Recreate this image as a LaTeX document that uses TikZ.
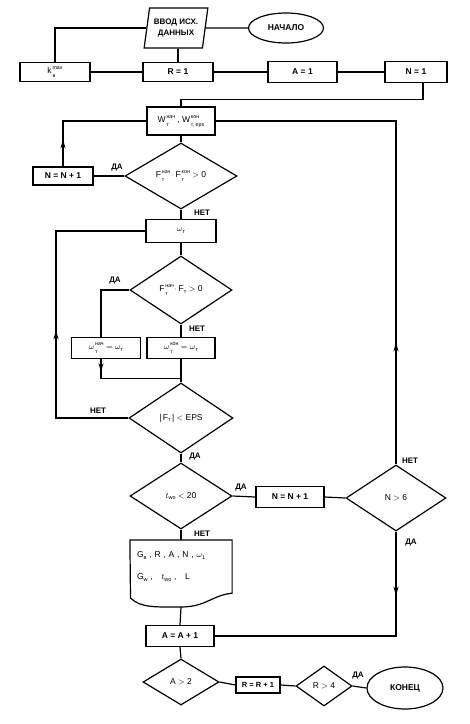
\documentclass[tikz,border=0pt]{standalone}
\usepackage{amsmath}
\usepackage{fontspec}
\setmainfont{Liberation Sans}
\usetikzlibrary{shapes.geometric,arrows.meta,decorations.markings}
\newcommand\SupSub[3]{#1\kern0.8pt\raisebox{0.6pt}{\fontsize{5.3}{7.4}\selectfont\begin{tabular}[c]{@{}l@{}}#2\\#3\end{tabular}}}
\newcommand\Sb[1]{\raisebox{-1.6pt}{\fontsize{5.5}{6.2}\selectfont #1}}
\begin{document}
\begin{tikzpicture}[x=1pt,y=-1pt,line width=1.2pt,
  font=\fontsize{8.5}{10}\selectfont,
  box/.style={draw,rectangle,inner sep=1pt,minimum height=19pt},
  bbox/.style={box,font=\fontsize{8.5}{10}\selectfont\bfseries},
  dia/.style={draw,diamond,inner sep=0pt},
  term/.style={draw,ellipse,inner sep=0pt,font=\fontsize{8.5}{10}\selectfont\bfseries},
  lbl/.style={font=\fontsize{8}{9}\selectfont\bfseries},
  midarr/.style={postaction={decorate},decoration={markings,
     mark=at position #1 with {\arrow{Stealth[length=9pt,width=5pt]}}}}]
\fill[white] (0,0) rectangle (470,724);
\useasboundingbox (0,0) rectangle (470,724);

% top row
\node[term,minimum width=75pt,minimum height=30pt] (start) at (286,28) {НАЧАЛО};
\node[draw,trapezium,trapezium left angle=76,trapezium right angle=104,
      trapezium stretches=true,minimum width=64pt,minimum height=40pt,inner sep=0pt,
      align=center,font=\fontsize{8}{11}\selectfont\bfseries] (inp) at (176,28) {ВВОД ИСХ.\\ДАННЫХ};
\node[box,minimum width=70pt] (kb) at (55,72) {\SupSub{k}{max}{в}};
\node[bbox,minimum width=70pt] (r1) at (178,72) {R = 1};
\node[bbox,minimum width=69pt,minimum height=21pt] (a1) at (302.5,72) {A = 1};
\node[bbox,minimum width=62pt,minimum height=21pt] (n1) at (416,72) {N = 1};

% main column
\node[box,minimum width=68pt,minimum height=28pt] (W) at (181,121)
  {\SupSub{W}{нач}{т}\;,\;\SupSub{W}{кон}{т, eps}};
\node[dia,minimum width=112pt,minimum height=66pt] (D1) at (181,176)
  {\SupSub{F}{нач}{т}\,$\cdot$\,\SupSub{F}{кон}{т} $>$ 0};
\node[bbox,minimum width=60pt,minimum height=18pt] (nn1) at (63,176) {N = N + 1};
\node[box,minimum width=70pt,minimum height=23pt] (om) at (181,231) {$\omega$\Sb{т}};
\node[dia,minimum width=102pt,minimum height=68pt] (D2) at (181,290)
  {\SupSub{F}{нач}{т}$\cdot$ F\Sb{т} $>$ 0};
\node[box,minimum width=69pt,minimum height=21pt] (noch) at (106,348)
  {\SupSub{$\omega$}{нач}{т} $=\omega$\Sb{т}};
\node[box,minimum width=68pt,minimum height=21pt] (kon) at (181,348)
  {\SupSub{$\omega$}{кон}{т} $=\omega$\Sb{т}};
\node[dia,minimum width=104pt,minimum height=70pt] (D3) at (181,418)
  {|\,F\Sb{т}\,| $<$ EPS};
\node[dia,minimum width=102pt,minimum height=66pt] (D4) at (181,496)
  {$t$\Sb{wo} $<$ 20};
\node[bbox,minimum width=68pt,minimum height=21pt] (nn2) at (290,497) {N = N + 1};
\node[dia,minimum width=100pt,minimum height=66pt] (n6) at (396,498) {N $>$ 6};

% document (output)
\node[minimum width=101pt,minimum height=52pt,anchor=north,inner sep=0pt,
      align=left,text width=88pt] (doc) at (181,540)
  {G\Sb{в} , R , A , N , $\omega$\Sb{1}\\[12pt]G\Sb{w} ,\quad $t$\Sb{wo} ,\quad L};
\coordinate (docb) at (181,607);
\coordinate (docl) at (130.5,598);
\draw (docl) -- (doc.north west) -- (doc.north east) -- (doc.south east)
  .. controls +(-20,2) and +(25,0) .. (docb)
  .. controls +(-25,0) and +(10,10) .. (docl);

\node[bbox,minimum width=68pt,minimum height=21pt] (ap1) at (180,636) {A = A + 1};
\node[dia,minimum width=76pt,minimum height=46pt] (A2) at (181,682) {A $>$ 2};
\node[bbox,minimum width=44pt,minimum height=16pt,font=\fontsize{7.5}{9}\selectfont\bfseries] (rp1) at (258,685) {R = R + 1};
\node[dia,minimum width=56pt,minimum height=40pt] (R4) at (324,686) {R $>$ 4};
\node[term,minimum width=76pt,minimum height=42pt] (end) at (405,688) {КОНЕЦ};

% connectors top
\draw (inp.west) -| (kb.north);
\draw (inp.east) -- (start.west);
\draw (r1.north) -- (r1.north |- inp.south);
\draw (kb.east) -- (r1.west);
\draw (r1.east) -- (a1.west);
\draw (a1.east) -- (n1.west);
\draw ([xshift=7pt]n1.south) -- ++(0,16) -| (W.north);

% main connectors
\draw (W.south) -- (D1.north);
\draw (D1.west) -- (nn1.east);
\draw[midarr=27pt] (nn1.north) |- (W.west);
\draw (D1.south) -- (om.north);
\draw (om.south) -- (D2.north);
\draw (D2.west) -| ([xshift=-5pt]noch.north);
\draw (D2.south) -- (kon.north);
\draw[midarr=13pt] ([xshift=-5pt]noch.south) -- ++(0,19) -| (D3.north);
\draw (kon.south) -- (D3.north);
\coordinate (lx) at (56,231);
\draw[midarr=160pt] (D3.west) -| (lx) -- (om.west);
\draw (D3.south) -- (D4.north);
\draw (D4.east) -- (nn2.west);
\draw (nn2.east) -- (n6.west);
\draw[midarr=122pt] (n6.north) |- (W.east);
\draw[midarr=64pt] (n6.south) |- (ap1.east);
\draw (D4.south) -- (doc.north);
\draw (docb) -- (ap1.north);
\draw (ap1.south) -- (A2.north);
\draw (A2.east) -- (rp1.west);
\draw (rp1.east) -- (R4.west);
\draw (R4.east) -- (end.west);

% labels
\node[lbl] at (117,168) {ДА};
\node[lbl] at (202,213) {НЕТ};
\node[lbl] at (115,281) {ДА};
\node[lbl] at (197,329) {НЕТ};
\node[lbl] at (98,411) {НЕТ};
\node[lbl] at (195,457) {ДА};
\node[lbl] at (241,488) {ДА};
\node[lbl] at (410,461) {НЕТ};
\node[lbl] at (411,543) {ДА};
\node[lbl] at (202,534) {НЕТ};
\node[lbl] at (358,676) {ДА};
\end{tikzpicture}
\end{document}
